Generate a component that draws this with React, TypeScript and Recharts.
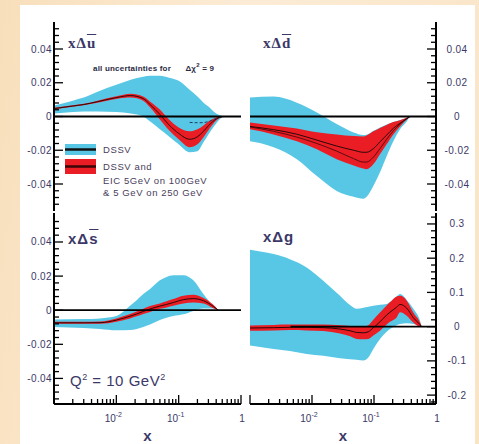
import React from "react";
import {
  ComposedChart,
  Area,
  Line,
  XAxis,
  YAxis,
  ReferenceLine,
  Legend
} from "recharts";

const BLUE = "#58c7e5";
const RED = "#ea1c24";
const INK = "#3b3868";
const SANS = "'Liberation Sans', Arial, sans-serif";
const SERIF = "'Liberation Serif', 'Times New Roman', serif";

// x axis ticks (log scale)
const xMajor = [0.001, 0.01, 0.1, 1];
const xLabelBase = [null, "10", "10", "1"];
const xLabelExp = [null, "-2", "-1", null];
const xMinor = [
  0.002, 0.003, 0.004, 0.005, 0.006, 0.007, 0.008, 0.009,
  0.02, 0.03, 0.04, 0.05, 0.06, 0.07, 0.08, 0.09,
  0.2, 0.3, 0.4, 0.5, 0.6, 0.7, 0.8, 0.9
];

// y axis ticks for the sea quark panels
const qMajor = [-0.04, -0.02, 0, 0.02, 0.04];
const qMinor = [
  -0.052, -0.048, -0.044, -0.036, -0.032, -0.028, -0.024, -0.016, -0.012, -0.008, -0.004,
  0.004, 0.008, 0.012, 0.016, 0.024, 0.028, 0.032, 0.036, 0.044, 0.048, 0.052
];
// y axis ticks for the gluon panel
const gMajor = [-0.2, -0.1, 0, 0.1, 0.2, 0.3];
const gMinor = [
  -0.22, -0.18, -0.16, -0.14, -0.12, -0.08, -0.06, -0.04, -0.02,
  0.02, 0.04, 0.06, 0.08, 0.12, 0.14, 0.16, 0.18, 0.22, 0.24, 0.26, 0.28, 0.32
];

// x Δū
const ubarX = [0.001, 0.002, 0.003, 0.005, 0.01, 0.017, 0.027, 0.035, 0.05, 0.07, 0.1, 0.15, 0.2, 0.25, 0.3, 0.4, 0.5, 0.55];
const ubarBlueLo = [0.0018, 0.0026, 0.003, 0.003, 0.0026, 0.0018, 0.0, -0.003, -0.0076, -0.0118, -0.0165, -0.0212, -0.0206, -0.0153, -0.0106, -0.0041, -0.0005, 0];
const ubarBlueHi = [0.0065, 0.0094, 0.0112, 0.0147, 0.0188, 0.0218, 0.0235, 0.0241, 0.0241, 0.023, 0.0212, 0.0159, 0.0118, 0.0082, 0.0059, 0.0018, 0.0003, 0];
const ubarRedLo = [0.0042, 0.0058, 0.0067, 0.0082, 0.0104, 0.0112, 0.0094, 0.0053, -0.0018, -0.0082, -0.0135, -0.0182, -0.0165, -0.0123, -0.0082, -0.0024, -0.0003, 0];
const ubarRedHi = [0.0052, 0.0066, 0.0075, 0.0094, 0.012, 0.0135, 0.0118, 0.0088, 0.0041, -0.0018, -0.0065, -0.0088, -0.0076, -0.0053, -0.003, -0.0006, 0.0001, 0];
const ubarMid = [0.0047, 0.0062, 0.0071, 0.0088, 0.0112, 0.0124, 0.0106, 0.007, 0.0012, -0.005, -0.01, -0.0135, -0.012, -0.0088, -0.0055, -0.0015, -0.0001, 0];
const ubarDash = [null, null, null, null, null, null, null, null, null, null, null, -0.0035, -0.0037, -0.0036, -0.003, -0.0012, 0, null];

// x Δd̄
const dbarX = [0.001, 0.0024, 0.0057, 0.012, 0.025, 0.047, 0.067, 0.076, 0.098, 0.125, 0.16, 0.205, 0.263, 0.337, 0.38];
const dbarBlueLo = [-0.0147, -0.0182, -0.0253, -0.0353, -0.0441, -0.0476, -0.0488, -0.0476, -0.041, -0.033, -0.0235, -0.0147, -0.0076, -0.003, 0];
const dbarBlueHi = [0.0112, 0.0118, 0.0082, 0.0024, -0.0045, -0.0095, -0.011, -0.0108, -0.0085, -0.0065, -0.0048, -0.0032, -0.002, -0.0007, 0];
const dbarRedLo = [-0.0076, -0.0106, -0.0147, -0.0194, -0.0253, -0.029, -0.0308, -0.0312, -0.0282, -0.0223, -0.0165, -0.0106, -0.0059, -0.0018, 0];
const dbarRedHi = [-0.0035, -0.0053, -0.0071, -0.0094, -0.0106, -0.0116, -0.0118, -0.0112, -0.0088, -0.0068, -0.005, -0.0033, -0.0022, -0.0008, 0];
const dbarMid = [-0.0059, -0.0078, -0.0105, -0.014, -0.0175, -0.02, -0.0212, -0.0212, -0.019, -0.015, -0.011, -0.007, -0.004, -0.0012, 0];
const dbarMid2 = [-0.0062, -0.0088, -0.0122, -0.016, -0.0205, -0.025, -0.027, -0.027, -0.024, -0.019, -0.0135, -0.0085, -0.0045, -0.0014, 0];

// x Δs̄
const sbarX = [0.001, 0.003, 0.0055, 0.01, 0.0166, 0.0212, 0.0271, 0.0347, 0.05, 0.064, 0.082, 0.119, 0.172, 0.249, 0.36, 0.433];
const sbarBlueLo = [-0.0098, -0.0104, -0.011, -0.0118, -0.0116, -0.011, -0.0098, -0.0084, -0.0058, -0.0044, -0.0034, -0.0024, -0.0004, 0.001, 0.001, 0];
const sbarBlueHi = [-0.0054, -0.0052, -0.0048, -0.0034, 0.0026, 0.0058, 0.0095, 0.0124, 0.0175, 0.0195, 0.0205, 0.0205, 0.0175, 0.0095, 0.0026, 0];
const sbarRedLo = [-0.008, -0.008, -0.008, -0.0068, -0.0048, -0.0036, -0.0022, -0.001, 0.0008, 0.0016, 0.0026, 0.004, 0.0045, 0.004, 0.0012, 0];
const sbarRedHi = [-0.0068, -0.0068, -0.0066, -0.0048, -0.0022, -0.0008, 0.0008, 0.0024, 0.004, 0.0052, 0.0065, 0.0085, 0.009, 0.0072, 0.0032, 0];
const sbarMid = [-0.0074, -0.0074, -0.0073, -0.0058, -0.0035, -0.0022, -0.0007, 0.0007, 0.0024, 0.0034, 0.0045, 0.0062, 0.0068, 0.0056, 0.0022, 0];

// x Δg
const gX = [0.001, 0.0024, 0.0044, 0.0082, 0.0152, 0.0283, 0.041, 0.0526, 0.0673, 0.081, 0.0975, 0.125, 0.16, 0.181, 0.232, 0.263, 0.337, 0.431, 0.552, 0.587];
const gBlueLo = [-0.055, -0.065, -0.071, -0.08, -0.085, -0.092, -0.095, -0.097, -0.099, -0.09, -0.065, -0.036, -0.015, -0.007, 0.004, 0.008, 0.01, 0.008, 0.002, 0];
const gBlueHi = [0.225, 0.212, 0.197, 0.173, 0.134, 0.09, 0.063, 0.052, 0.055, 0.058, 0.061, 0.064, 0.066, 0.072, 0.088, 0.095, 0.078, 0.052, 0.017, 0];
const gRedLo = [-0.012, -0.011, -0.01, -0.011, -0.013, -0.02, -0.028, -0.036, -0.037, -0.036, -0.026, -0.012, 0.006, 0.014, 0.027, 0.042, 0.032, 0.012, 0, 0];
const gRedHi = [0.003, 0.005, 0.006, 0.006, 0.006, 0.004, 0.002, 0, 0, 0.004, 0.02, 0.041, 0.062, 0.071, 0.088, 0.09, 0.076, 0.041, 0.012, 0];
const gMid = [-0.004, -0.003, -0.002, -0.002, -0.003, -0.007, -0.012, -0.017, -0.018, -0.015, -0.003, 0.014, 0.034, 0.042, 0.057, 0.065, 0.054, 0.026, 0.006, 0];

type Row = {
  x: number;
  blue: [number, number];
  red: [number, number];
  mid: number;
  mid2: number | null;
  dash: number | null;
};

function buildRows(
  xs: number[],
  blueLo: number[],
  blueHi: number[],
  redLo: number[],
  redHi: number[],
  mid: number[],
  mid2?: (number | null)[],
  dash?: (number | null)[]
): Row[] {
  return xs.map((x, i) => ({
    x,
    blue: [blueLo[i], blueHi[i]],
    red: [redLo[i], redHi[i]],
    mid: mid[i],
    mid2: mid2 ? mid2[i] : null,
    dash: dash ? dash[i] : null
  }));
}

const ubarRows = buildRows(ubarX, ubarBlueLo, ubarBlueHi, ubarRedLo, ubarRedHi, ubarMid, undefined, ubarDash);
const dbarRows = buildRows(dbarX, dbarBlueLo, dbarBlueHi, dbarRedLo, dbarRedHi, dbarMid, dbarMid2);
const sbarRows = buildRows(sbarX, sbarBlueLo, sbarBlueHi, sbarRedLo, sbarRedHi, sbarMid);
const gRows = buildRows(gX, gBlueLo, gBlueHi, gRedLo, gRedHi, gMid);

function XTick(props: any) {
  const { x, y, payload, side, showLabel } = props;
  const v = payload.value;
  const idx = xMajor.indexOf(v);
  const major = idx >= 0;
  const dir = side === "bottom" ? -1 : 1;
  const base = major ? xLabelBase[idx] : null;
  const exp = major ? xLabelExp[idx] : null;
  return (
    <g>
      <line x1={x} x2={x} y1={y} y2={y + dir * (major ? 9 : 5)} stroke="#000" strokeWidth={1.3} />
      {showLabel && base && (
        <text
          x={exp ? x - 3 : x + 1}
          y={y + 18}
          textAnchor="middle"
          fontSize={10}
          fontFamily={SANS}
          fill={INK}
        >
          {base}
          {exp && (
            <tspan dy={-5} fontSize={7}>
              {exp}
            </tspan>
          )}
        </text>
      )}
    </g>
  );
}

function YTick(props: any) {
  const { x, y, payload, side, showLabel, majors } = props;
  const v = payload.value;
  const major = majors.includes(v);
  const dir = side === "left" ? 1 : -1;
  return (
    <g>
      <line x1={x} x2={x + dir * (major ? 9 : 5)} y1={y} y2={y} stroke="#000" strokeWidth={1.3} />
      {showLabel && major && (
        <text
          x={side === "left" ? x - 2 : x + 21}
          y={y}
          dy="0.35em"
          textAnchor={side === "left" ? "end" : "middle"}
          fontSize={10}
          letterSpacing={0.4}
          fontFamily={SANS}
          fill={INK}
        >
          {String(v)}
        </text>
      )}
    </g>
  );
}

function LegendBox() {
  const txt = { fontSize: 9.5, fontFamily: SANS, fill: "#4a3d5c", letterSpacing: 0.6 };
  return (
    <svg width={180} height={58} style={{ display: "block" }}>
      <rect x={0} y={2} width={31} height={11} fill={BLUE} />
      <line x1={0} x2={31} y1={7.5} y2={7.5} stroke="#111" strokeWidth={2.5} />
      <rect x={0} y={17} width={31} height={15} fill={RED} />
      <line x1={0} x2={31} y1={24.5} y2={24.5} stroke="#3a0606" strokeWidth={2.5} />
      <text x={38} y={11} {...txt}>DSSV</text>
      <text x={38} y={28} {...txt}>DSSV and</text>
      <text x={38} y={42} {...txt}>EIC 5GeV on 100GeV</text>
      <text x={38} y={54} {...txt}>&amp; 5 GeV on 250 GeV</text>
    </svg>
  );
}

interface PanelProps {
  left: number;
  top: number;
  w: number;
  h: number;
  data: Row[];
  domain: [number, number];
  majors: number[];
  minors: number[];
  labelSide: "left" | "right";
  xLabels: boolean;
  zeroFrom: number;
  legend?: boolean;
}

function Panel({ left, top, w, h, data, domain, majors, minors, labelSide, xLabels, zeroFrom, legend }: PanelProps) {
  const leftW = labelSide === "left" ? 34 : 0;
  const rightW = labelSide === "right" ? 40 : 0;
  const bottomH = xLabels ? 40 : 0;
  const margin = { top: 2, right: labelSide === "left" ? 6 : 2, bottom: xLabels ? 0 : 2, left: 2 };
  const width = w + leftW + rightW + margin.left + margin.right;
  const height = h + bottomH + margin.top + margin.bottom;
  const yTicks = [...minors, ...majors];
  const xTicks = [...xMinor, ...xMajor];
  const frame = { stroke: "#000", strokeWidth: 2 };

  return (
    <div style={{ position: "absolute", left: left - leftW - margin.left, top: top - margin.top }}>
      <ComposedChart width={width} height={height} data={data} margin={margin}>
        <XAxis
          dataKey="x"
          type="number"
          scale="log"
          domain={[0.001, 1]}
          allowDataOverflow
          ticks={xTicks}
          interval={0}
          height={bottomH}
          tickSize={0}
          tickMargin={0}
          tickLine={false}
          axisLine={frame}
          tick={(p: any) => <XTick {...p} side="bottom" showLabel={xLabels} />}
          label={
            xLabels
              ? { value: "x", position: "insideBottom", offset: 3, fontSize: 15, fontWeight: "bold", fill: INK, fontFamily: SANS }
              : undefined
          }
        />
        <XAxis
          xAxisId="top"
          dataKey="x"
          type="number"
          scale="log"
          orientation="top"
          domain={[0.001, 1]}
          allowDataOverflow
          ticks={xTicks}
          interval={0}
          height={0}
          tickSize={0}
          tickMargin={0}
          tickLine={false}
          axisLine={frame}
          tick={(p: any) => <XTick {...p} side="top" showLabel={false} />}
        />
        <YAxis
          type="number"
          domain={domain}
          allowDataOverflow
          ticks={yTicks}
          interval={0}
          width={leftW}
          tickSize={0}
          tickMargin={0}
          tickLine={false}
          axisLine={frame}
          tick={(p: any) => <YTick {...p} side="left" majors={majors} showLabel={labelSide === "left"} />}
        />
        <YAxis
          yAxisId="right"
          orientation="right"
          type="number"
          domain={domain}
          allowDataOverflow
          ticks={yTicks}
          interval={0}
          width={rightW}
          tickSize={0}
          tickMargin={0}
          tickLine={false}
          axisLine={frame}
          tick={(p: any) => <YTick {...p} side="right" majors={majors} showLabel={labelSide === "right"} />}
        />
        <Area dataKey="blue" type="monotone" fill={BLUE} fillOpacity={1} stroke="none" isAnimationActive={false} />
        <Area dataKey="red" type="monotone" fill={RED} fillOpacity={1} stroke="none" isAnimationActive={false} />
        <Line dataKey="mid2" type="monotone" stroke="#5a0d10" strokeWidth={1} dot={false} connectNulls={false} isAnimationActive={false} />
        <Line dataKey="mid" type="monotone" stroke="#2a0808" strokeWidth={1} dot={false} isAnimationActive={false} />
        <Line dataKey="dash" type="monotone" stroke="#1d3e66" strokeWidth={1} strokeDasharray="3 2" dot={false} connectNulls={false} isAnimationActive={false} />
        <ReferenceLine
          segment={[{ x: zeroFrom, y: 0 }, { x: 1, y: 0 }]}
          stroke="#000"
          strokeWidth={1.8}
          ifOverflow="visible"
        />
        {legend && (
          <Legend
            layout="vertical"
            align="center"
            verticalAlign="middle"
            content={() => <LegendBox />}
            wrapperStyle={{ position: "absolute", left: 47, top: 122, width: 180 }}
          />
        )}
      </ComposedChart>
    </div>
  );
}

const titleStyle: React.CSSProperties = {
  position: "absolute",
  fontSize: 15,
  fontWeight: "bold",
  color: INK,
  fontFamily: SERIF,
  letterSpacing: 1,
  whiteSpace: "nowrap",
  lineHeight: 1
};

export default function App() {
  return (
    <div
      style={{
        position: "absolute",
        left: 0,
        top: 0,
        width: 479,
        height: 444,
        overflow: "hidden",
        background: "linear-gradient(100deg, #f8dfbb 0%, #fcecd6 45%, #f9e4c6 100%)"
      }}
    >
      <div style={{ position: "absolute", left: 20, top: 5, width: 455, height: 439, background: "#fff" }} />

      <Panel left={54} top={22} w={187} h={189} data={ubarRows} domain={[-0.056, 0.056]} majors={qMajor} minors={qMinor} labelSide="left" xLabels={false} zeroFrom={0.001} legend />
      <Panel left={250} top={22} w={186} h={189} data={dbarRows} domain={[-0.056, 0.056]} majors={qMajor} minors={qMinor} labelSide="right" xLabels={false} zeroFrom={0.001} />
      <Panel left={54} top={213} w={187} h={191} data={sbarRows} domain={[-0.055, 0.057]} majors={qMajor} minors={qMinor} labelSide="left" xLabels zeroFrom={0.001} />
      <Panel left={250} top={213} w={186} h={191} data={gRows} domain={[-0.226, 0.332]} majors={gMajor} minors={gMinor} labelSide="right" xLabels zeroFrom={0.0045} />

      <div style={{ ...titleStyle, left: 68, top: 36 }}>
        xΔ<span style={{ textDecoration: "overline" }}>u</span>
      </div>
      <div style={{ ...titleStyle, left: 263, top: 36 }}>
        xΔ<span style={{ textDecoration: "overline" }}>d</span>
      </div>
      <div style={{ ...titleStyle, left: 68, top: 231, fontFamily: SANS }}>
        xΔ<span style={{ textDecoration: "overline" }}>s</span>
      </div>
      <div style={{ ...titleStyle, left: 263, top: 229, fontFamily: SANS }}>xΔg</div>

      <div
        style={{
          position: "absolute",
          left: 93,
          top: 62,
          fontSize: 8,
          fontWeight: "bold",
          color: "#2c2a44",
          fontFamily: SANS,
          whiteSpace: "nowrap",
          letterSpacing: 0.2
        }}
      >
        all uncertainties for <span style={{ marginLeft: 12 }}>Δχ<sup style={{ fontSize: 6 }}>2</sup> = 9</span>
      </div>

      <div
        style={{
          position: "absolute",
          left: 70,
          top: 372,
          fontSize: 15,
          color: INK,
          fontFamily: SANS,
          whiteSpace: "nowrap",
          letterSpacing: 0.5
        }}
      >
        Q<sup style={{ fontSize: 9 }}>2</sup> = 10 GeV<sup style={{ fontSize: 9 }}>2</sup>
      </div>
    </div>
  );
}
